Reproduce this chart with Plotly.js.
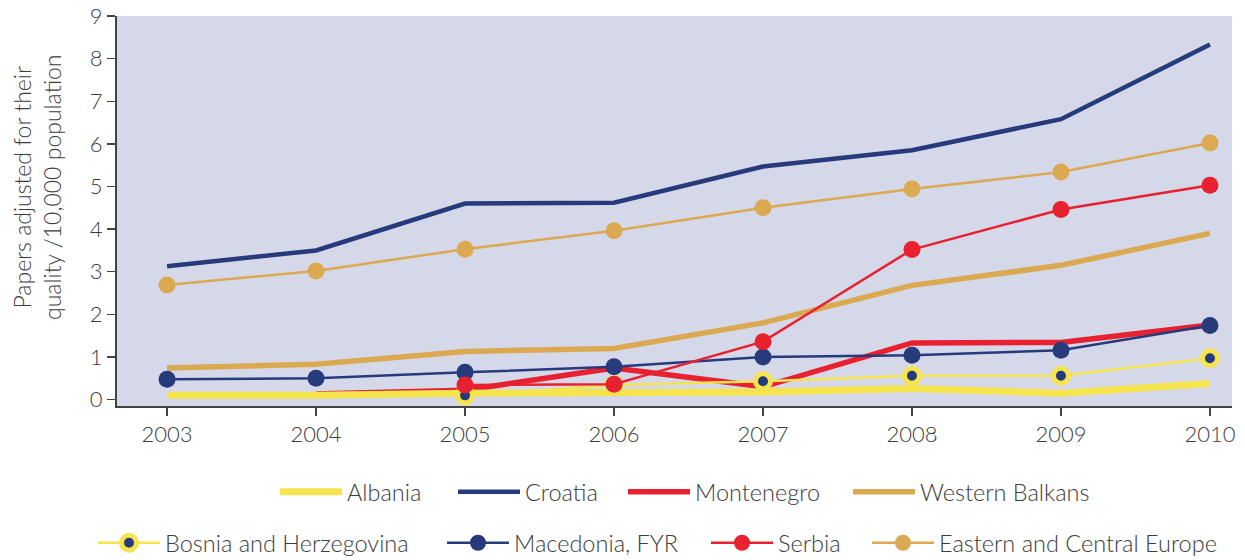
<!DOCTYPE html>
<html>
<head>
<meta charset="utf-8">
<script src="https://cdn.plot.ly/plotly-3.0.1.min.js"></script>
<style>
  html, body { margin: 0; padding: 0; background: #ffffff; }
  #chart { width: 1245px; height: 560px; }
</style>
</head>
<body>
<div id="chart"></div>
<script>
// ---- data ----
const years = [2003, 2004, 2005, 2006, 2007, 2008, 2009, 2010];
const albania        = [0.10, 0.10, 0.15, 0.18, 0.18, 0.26, 0.15, 0.38];
const croatia        = [3.13, 3.50, 4.60, 4.62, 5.47, 5.85, 6.58, 8.33];
const montenegro     = [null, 0.13, 0.22, 0.74, 0.30, 1.33, 1.34, 1.75];
const westernBalkans = [0.74, 0.83, 1.13, 1.20, 1.80, 2.68, 3.15, 3.90];
const bosnia         = [null, null, 0.10, 0.34, 0.43, 0.56, 0.56, 0.97];
const macedonia      = [0.48, 0.50, 0.64, 0.77, 1.00, 1.04, 1.16, 1.74];
const serbia         = [null, null, 0.34, 0.36, 1.36, 3.52, 4.46, 5.03];
const easternCentral = [2.69, 3.02, 3.53, 3.96, 4.50, 4.94, 5.34, 6.02];
const yTicks = [0, 1, 2, 3, 4, 5, 6, 7, 8, 9];
const yTitle = 'Papers adjusted for their<br>quality /10,000 population';

const NAVY = '#263a7c', YELLOW = '#f6e44f', RED = '#e7212f', TAN = '#dba952';
const FONT = 'Lato, "Open Sans", sans-serif';
const TEXT = '#3c3c3c';
const W = 300;

const traces = [
  {name: 'Western Balkans', y: westernBalkans, mode: 'lines', line: {color: TAN, width: 5.5}, legend: 'legend4'},
  {name: 'Croatia', y: croatia, mode: 'lines', line: {color: NAVY, width: 4.5}, legend: 'legend2'},
  {name: 'Eastern and Central Europe', y: easternCentral, mode: 'lines+markers', line: {color: TAN, width: 2.5},
   marker: {color: TAN, size: 17}, legend: 'legend8'},
  {name: 'Montenegro', y: montenegro, mode: 'lines', line: {color: RED, width: 5.5}, legend: 'legend3'},
  {name: 'Albania', y: albania, mode: 'lines', line: {color: YELLOW, width: 7}, legend: 'legend'},
  {name: 'Bosnia and Herzegovina', y: bosnia, mode: 'lines+markers', line: {color: YELLOW, width: 2.5},
   marker: {color: NAVY, size: 15, line: {color: YELLOW, width: 5}}, legend: 'legend5'},
  {name: 'Macedonia, FYR', y: macedonia, mode: 'lines+markers', line: {color: NAVY, width: 2.5},
   marker: {color: NAVY, size: 17}, legend: 'legend6'},
  {name: 'Serbia', y: serbia, mode: 'lines+markers', line: {color: RED, width: 2.5},
   marker: {color: RED, size: 17}, legend: 'legend7'}
].map(t => Object.assign({x: years, type: 'scatter', connectgaps: false, hoverinfo: 'x+y+name'}, t));

// legend entry anchor positions in pixels (left of sample, vertical centre)
const legendPos = {
  legend:  [280, 492], legend2: [458, 492], legend3: [628, 492], legend4: [853, 492],
  legend5: [98, 543],  legend6: [447, 543], legend7: [711, 543], legend8: [872, 543]
};

const layout = {
  width: 1245, height: 560,
  margin: {l: 117, r: 13, t: 16, b: 154},
  paper_bgcolor: '#ffffff',
  plot_bgcolor: '#d5d8e8',
  font: {family: FONT, color: TEXT, weight: W},
  showlegend: true,
  xaxis: {
    range: [2002.664, 2010.148],
    tickvals: years, ticktext: years.map(String),
    ticks: 'outside', ticklen: 8, tickwidth: 1.5, tickcolor: '#444',
    showline: true, linecolor: '#444', linewidth: 2,
    showgrid: false, zeroline: false, automargin: false,
    tickfont: {family: FONT, size: 22, color: TEXT, weight: W}
  },
  yaxis: {
    range: [-0.15, 9],
    tickvals: yTicks,
    ticks: 'outside', ticklen: 8, tickwidth: 1.5, tickcolor: '#444',
    showline: true, linecolor: '#444', linewidth: 2,
    showgrid: false, zeroline: false, automargin: false,
    tickfont: {family: FONT, size: 22, color: TEXT, weight: W}
  },
  annotations: [{
    text: yTitle, textangle: -90, showarrow: false,
    xref: 'paper', yref: 'paper', x: (37 - 117) / 1115, y: (406 - 187) / 390,
    xanchor: 'center', yanchor: 'middle',
    font: {family: FONT, size: 23, color: TEXT, weight: W}
  }]
};

Object.keys(legendPos).forEach(k => {
  const [px, py] = legendPos[k];
  layout[k] = {
    orientation: 'h', xref: 'container', yref: 'container',
    x: (px - 5) / 1245, y: 1 - py / 560, xanchor: 'left', yanchor: 'middle',
    font: {family: FONT, size: 23.5, color: TEXT, weight: W},
    bgcolor: 'rgba(0,0,0,0)', borderwidth: 0, itemwidth: 62
  };
});

Plotly.newPlot('chart', traces, layout, {displayModeBar: false, staticPlot: true});
</script>
</body>
</html>
